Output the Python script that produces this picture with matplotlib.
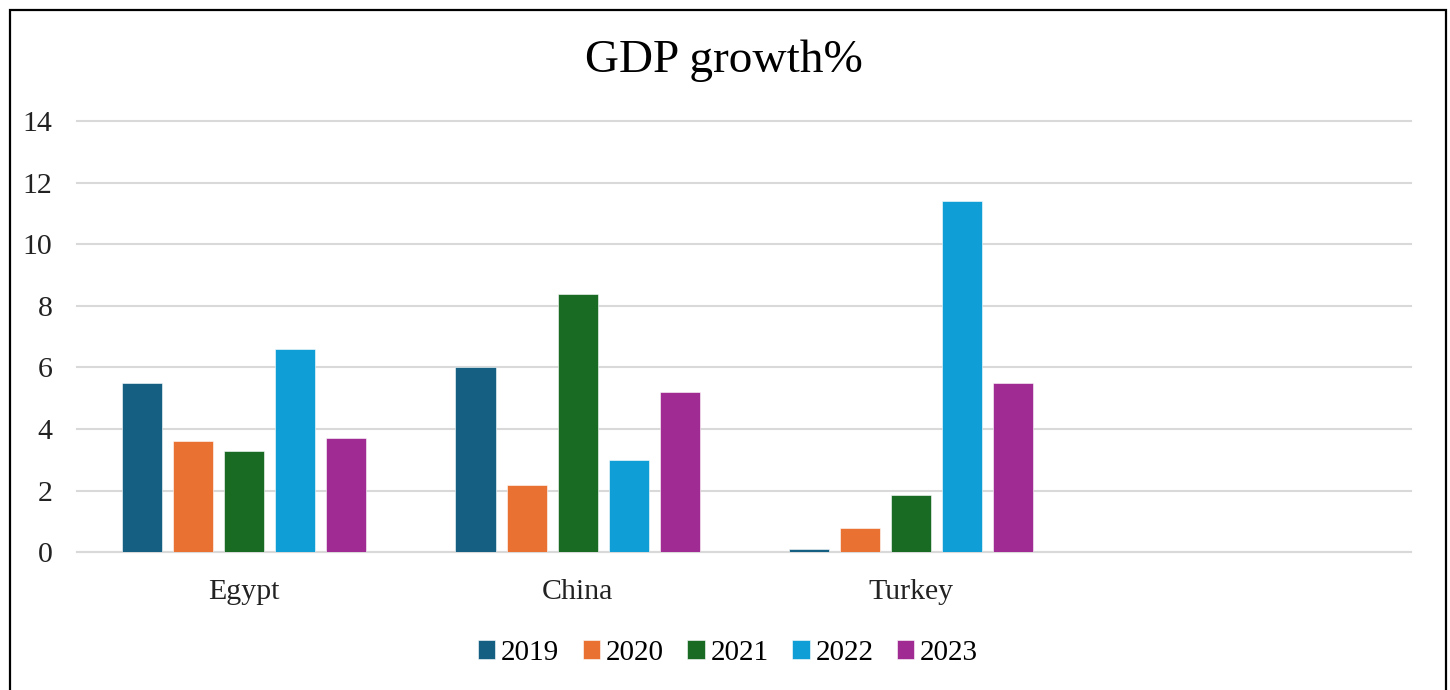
import numpy as np
import matplotlib
matplotlib.use('Agg')
import matplotlib.pyplot as plt
from matplotlib.patches import Rectangle

plt.rcParams['font.family'] = ['Liberation Serif', 'DejaVu Serif']

# data (the 4th category slot is empty in the original)
countries = ['Egypt', 'China', 'Turkey', '']
years = ['2019', '2020', '2021', '2022', '2023']
g2019 = [5.5, 6.0, 0.1]
g2020 = [3.6, 2.2, 0.8]
g2021 = [3.3, 8.4, 1.85]
g2022 = [6.6, 3.0, 11.4]
g2023 = [3.7, 5.2, 5.5]
series = [g2019, g2020, g2021, g2022, g2023]
colors = ['#156082', '#E97132', '#196B24', '#0F9ED5', '#A02B93']

fig = plt.figure(figsize=(14.5, 6.9), dpi=100)
ax = fig.add_axes([0.0534, 0.1996, 0.9197, 0.625])

x = np.arange(len(g2019))
pitch = 0.153
for j, vals in enumerate(series):
    ax.bar(x + (j - 2) * pitch, vals, width=0.12, color=colors[j],
           label=years[j], zorder=3, edgecolor='white', linewidth=0.4)

ax.set_xlim(-0.5, len(countries) - 0.5)
ax.set_ylim(0, 14)
ax.set_yticks(range(0, 15, 2))
ax.set_xticks(range(len(countries)))
ax.set_xticklabels(countries)
ax.yaxis.grid(True, color='#D9D9D9', linewidth=1.5, zorder=0)
for gl in ax.get_ygridlines():
    gl.set_clip_on(False)
ax.set_axisbelow(True)
for s in ax.spines.values():
    s.set_visible(False)
ax.tick_params(axis='y', length=0, pad=18, labelsize=21.5, labelcolor='#222222')
ax.tick_params(axis='x', length=0, pad=19, labelsize=21.5, labelcolor='#222222')
# baseline at 0 drawn like the gridlines
ax.axhline(0, color='#D9D9D9', linewidth=1.5, zorder=1, clip_on=False)

fig.text(0.499, 0.912, 'GDP growth%', ha='center', va='center', fontsize=34)

ax.legend(loc='center', bbox_to_anchor=(0.502, 0.054), bbox_transform=fig.transFigure,
          ncol=5, frameon=False, fontsize=21, handlelength=0.6, handleheight=0.6,
          handletextpad=0.2, columnspacing=0.8)

# outer chart border
fig.patches.append(Rectangle((9.5 / 1450, -0.05), (1445.5 - 9.5) / 1450, (690 - 9.5) / 690 + 0.05,
                             transform=fig.transFigure, fill=False, edgecolor='black',
                             linewidth=1.6))

plt.savefig('out.png', dpi=100)
